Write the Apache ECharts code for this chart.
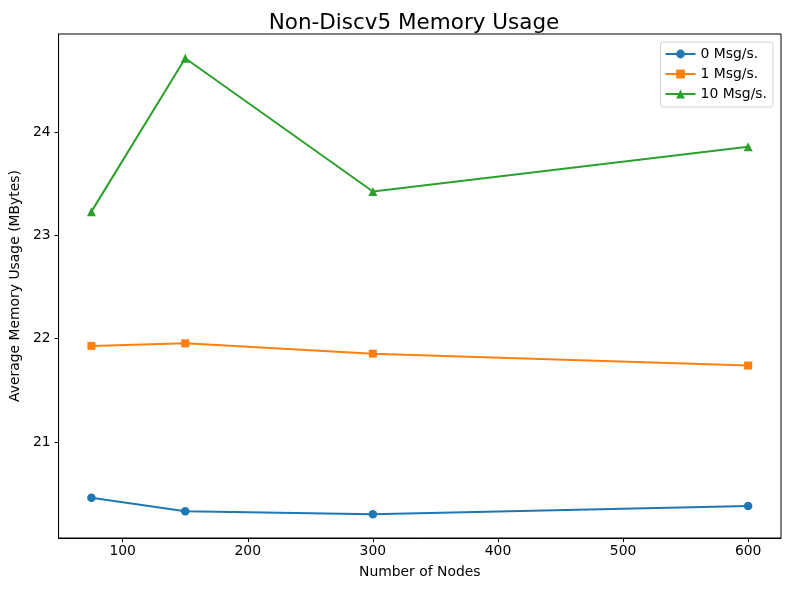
<!DOCTYPE html>
<html>
<head>
<meta charset="utf-8">
<script src="https://cdn.jsdelivr.net/npm/echarts@6/dist/echarts.min.js"></script>
<style>
  html, body { margin: 0; padding: 0; background: #fff; }
  #chart { width: 790px; height: 590px; }
</style>
</head>
<body>
<div id="chart"></div>
<script>
// 节点数量 (x轴)
var nodes = [75, 150, 300, 600];
// 各消息速率下的平均内存 (MBytes)
var mem0 = [20.46, 20.33, 20.30, 20.38];
var mem1 = [21.93, 21.955, 21.855, 21.74];
var mem10 = [23.23, 24.715, 23.425, 23.858];
var seriesNames = ['0 Msg/s.', '1 Msg/s.', '10 Msg/s.'];
var xTicks = [100, 200, 300, 400, 500, 600];
var yTicks = [21, 22, 23, 24];

var font = 'DejaVu Sans';

function pairs(xs, ys) {
    var out = [];
    for (var i = 0; i < xs.length; i++) {
        out.push([xs[i], ys[i]]);
    }
    return out;
}

function makeSeries(name, data, color, symbol, size) {
    return {
        name: name,
        type: 'line',
        data: pairs(nodes, data),
        symbol: symbol,
        symbolSize: size,
        showAllSymbol: true,
        lineStyle: { color: color, width: 2 },
        itemStyle: { color: color },
        animation: false
    };
}

var myChart = echarts.init(document.getElementById('chart'));

var option = {
    backgroundColor: '#fff',
    title: {
        text: 'Non-Discv5 Memory Usage',
        left: 409,
        textAlign: 'center',
        top: 7,
        textStyle: { fontFamily: font, fontSize: 21.5, fontWeight: 'normal', color: '#000' }
    },
    legend: {
        orient: 'vertical',
        right: 17,
        top: 42,
        itemWidth: 30,
        itemHeight: 11,
        itemGap: 6,
        padding: [5, 6, 6, 4],
        borderColor: '#d0d0d0',
        borderWidth: 1,
        borderRadius: 3,
        backgroundColor: 'rgba(255,255,255,0.8)',
        data: seriesNames,
        textStyle: { fontFamily: font, fontSize: 13.9, color: '#000' }
    },
    grid: {
        left: 57,
        right: 9,
        top: 34,
        bottom: 52,
        show: true,
        borderColor: '#000',
        borderWidth: 1
    },
    xAxis: {
        type: 'value',
        min: 48.75,
        max: 626.25,
        name: 'Number of Nodes',
        nameLocation: 'middle',
        nameGap: 27,
        nameTextStyle: { fontFamily: font, fontSize: 13.9, color: '#000' },
        axisLine: { show: true, lineStyle: { color: '#000', width: 1 } },
        axisTick: { show: true, inside: false, length: 4, customValues: xTicks, lineStyle: { color: '#000' } },
        axisLabel: { customValues: xTicks, margin: 6, fontFamily: font, fontSize: 13.9, color: '#000' },
        splitLine: { show: false }
    },
    yAxis: {
        type: 'value',
        min: 20.07,
        max: 24.95,
        name: 'Average Memory Usage (MBytes)',
        nameLocation: 'middle',
        nameGap: 34,
        nameTextStyle: { fontFamily: font, fontSize: 13.9, color: '#000' },
        axisLine: { show: true, lineStyle: { color: '#000', width: 1 } },
        axisTick: { show: true, inside: false, length: 4, customValues: yTicks, lineStyle: { color: '#000' } },
        axisLabel: { customValues: yTicks, margin: 8, fontFamily: font, fontSize: 13.9, color: '#000' },
        splitLine: { show: false }
    },
    series: [
        makeSeries(seriesNames[0], mem0, '#1f77b4', 'circle', 8.5),
        makeSeries(seriesNames[1], mem1, '#ff7f0e', 'rect', 8),
        makeSeries(seriesNames[2], mem10, '#2ca02c', 'triangle', 9)
    ]
};

myChart.setOption(option);
</script>
</body>
</html>
